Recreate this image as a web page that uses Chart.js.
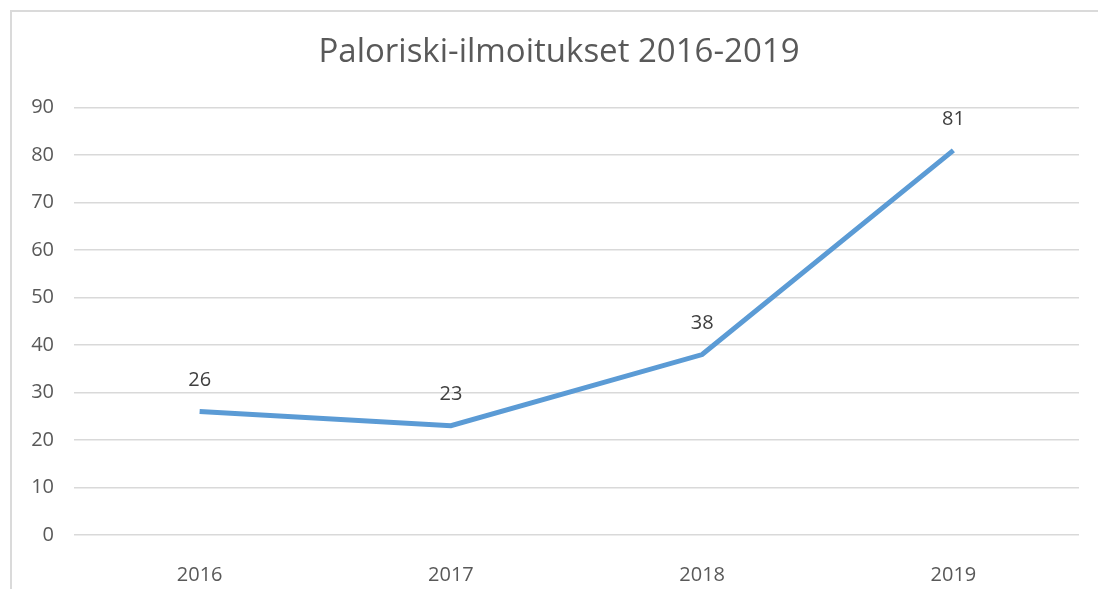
<!DOCTYPE html>
<html>
<head>
<meta charset="utf-8">
<script src="https://cdn.jsdelivr.net/npm/chart.js@4/dist/chart.umd.min.js"></script>
<style>
  html, body { margin: 0; padding: 0; background: #fff; overflow: hidden; width: 1098px; height: 589px; }
  #frame { position: absolute; left: 10px; top: 10px; width: 1200px; height: 700px;
           border-left: 2px solid #dadada; border-top: 2px solid #dadada; }
  #wrap { position: absolute; left: 0; top: 0; }
</style>
</head>
<body>
<div id="frame"></div>
<div id="wrap"><canvas id="chart" width="1118" height="589"></canvas></div>
<script>
  // Tiedot kuvasta
  const years = ["2016", "2017", "2018", "2019"];
  const reports = [26, 23, 38, 81];
  const yTicks = [0, 10, 20, 30, 40, 50, 60, 70, 80, 90];

  const textColor = "#595959";
  const fontFamily = "'Open Sans', 'Noto Sans', sans-serif";

  // Arvot pisteiden yläpuolelle
  const valueLabels = {
    id: "valueLabels",
    afterDatasetsDraw(chart) {
      const ctx = chart.ctx;
      const meta = chart.getDatasetMeta(0);
      ctx.save();
      ctx.font = "20px " + fontFamily;
      ctx.fillStyle = "#404040";
      ctx.textAlign = "center";
      ctx.textBaseline = "middle";
      meta.data.forEach((pt, i) => {
        ctx.fillText(String(reports[i]), pt.x, pt.y - 31);
      });
      ctx.restore();
    }
  };

  new Chart(document.getElementById("chart").getContext("2d"), {
    type: "line",
    data: {
      labels: years,
      datasets: [{
        label: "Paloriski-ilmoitukset",
        data: reports,
        borderColor: "#5B9BD5",
        borderWidth: 5,
        pointRadius: 0,
        tension: 0,
        fill: false
      }]
    },
    options: {
      responsive: false,
      animation: false,
      layout: { padding: 0 },
      plugins: {
        legend: { display: false },
        tooltip: { enabled: false },
        title: {
          display: true,
          text: "Paloriski-ilmoitukset 2016-2019",
          color: textColor,
          font: { family: fontFamily, size: 33, weight: "normal" },
          padding: { top: 33, bottom: 35 }
        }
      },
      scales: {
        x: {
          offset: true,
          grid: { display: false },
          border: { display: false },
          ticks: { color: textColor, font: { family: fontFamily, size: 20 }, padding: 20 },
          afterFit: (s) => { s.height = 54; }
        },
        y: {
          min: 0,
          max: 90,
          afterBuildTicks: (s) => { s.ticks = yTicks.map((v) => ({ value: v })); },
          grid: { color: "#d9d9d9", lineWidth: 1.5, drawTicks: false },
          border: { display: false },
          ticks: { color: textColor, font: { family: fontFamily, size: 20 }, padding: 20 },
          afterFit: (s) => { s.width = 74; }
        },
        // tyhjä tila oikealla, jotta otsikko keskittyy koko kehykseen
        yRight: {
          position: "right",
          min: 0,
          max: 90,
          grid: { display: false },
          border: { display: false },
          ticks: { display: false },
          afterFit: (s) => { s.width = 39; }
        }
      }
    },
    plugins: [valueLabels]
  });
</script>
</body>
</html>
